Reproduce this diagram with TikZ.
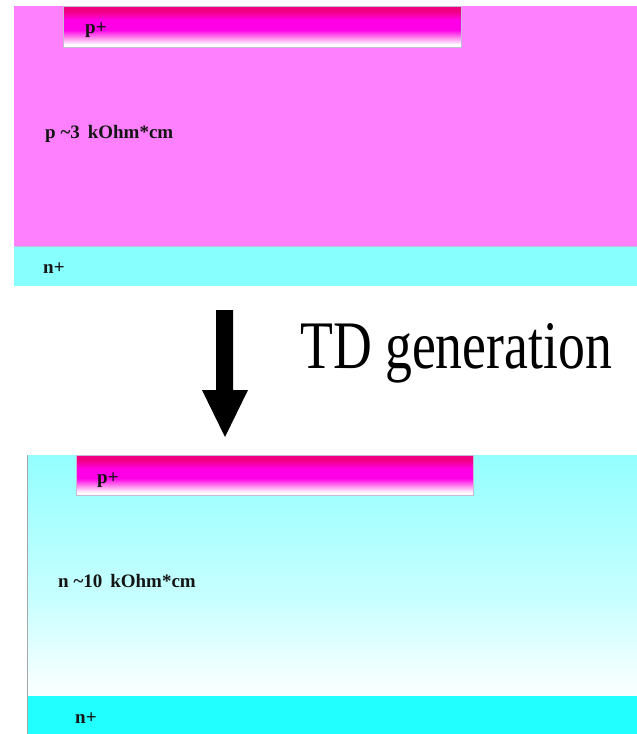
\documentclass[tikz,border=0pt]{standalone}
\usepackage{fontspec}
\setmainfont{Liberation Serif}
\definecolor{pbulk}{HTML}{FF80FF}
\definecolor{nplustop}{HTML}{88FFFF}
\definecolor{nplusbot}{HTML}{22FFFF}
\definecolor{ntop}{HTML}{94FFFF}
\definecolor{nmid}{HTML}{C8FFFF}
\definecolor{nbot}{HTML}{F8FFFF}
\definecolor{pptop}{HTML}{F00080}
\definecolor{ppmid}{HTML}{FF00E6}
\definecolor{pplight}{HTML}{FF90F0}
\definecolor{edge}{HTML}{C8B8D8}
\definecolor{txt}{HTML}{151515}
\pgfdeclareverticalshading{ppgrad}{100bp}{color(0bp)=(white); color(28bp)=(white); color(36bp)=(pplight); color(46bp)=(ppmid); color(58bp)=(ppmid); color(69bp)=(pptop); color(100bp)=(pptop)}
\pgfdeclareverticalshading{ngrad}{100bp}{color(0bp)=(nbot); color(27bp)=(nbot); color(45bp)=(nmid); color(75bp)=(ntop); color(100bp)=(ntop)}
\tikzset{
  lbl/.style={anchor=base west, inner sep=0pt, text=txt, font=\fontsize{19}{19}\selectfont\bfseries},
  ppshade/.style={shading=ppgrad, draw=edge, line width=0.6pt},
}
\begin{document}
\begin{tikzpicture}[x=1pt,y=-1pt]
\useasboundingbox (0,0) rectangle (637,734);
\fill[white] (0,0) rectangle (637,734);
% ---- top sample ----
\fill[pbulk] (14,6) rectangle (637,246);
\fill[nplustop] (14,246) rectangle (637,286);
\draw[edge, line width=0.6pt] (14,246) -- (637,246);
\shade[ppshade] (63,6) rectangle (461,47);
\node[lbl] (pp1) at (85,33) {p+};
\node[lbl] (pb) at (45,138) {p \textasciitilde3\, kOhm*cm};
\node[lbl] (np1) at (43,273) {n+};
% ---- arrow ----
\fill[black] (216,310) -- (233,310) -- (233,390) -- (248,390) -- (225,437) -- (202,390) -- (216,390) -- cycle;
\node[anchor=base west, inner sep=0pt, font=\fontsize{68}{68}\selectfont] (td) at (300,368) {\scalebox{0.79}[1]{TD generation}};
% ---- bottom sample ----
\shade[shading=ngrad] (27,455) rectangle (637,696);
\fill[nplusbot] (27,696) rectangle (637,734);
\draw[black!35, line width=0.6pt] (27,455) -- (27,734);
\shade[ppshade] (76,455) rectangle (473,495);
\node[lbl] (pp2) at (97,483) {p+};
\node[lbl] (nb) at (58,587) {n \textasciitilde10\, kOhm*cm};
\node[lbl] (np2) at (75,723) {n+};
\end{tikzpicture}
\end{document}
